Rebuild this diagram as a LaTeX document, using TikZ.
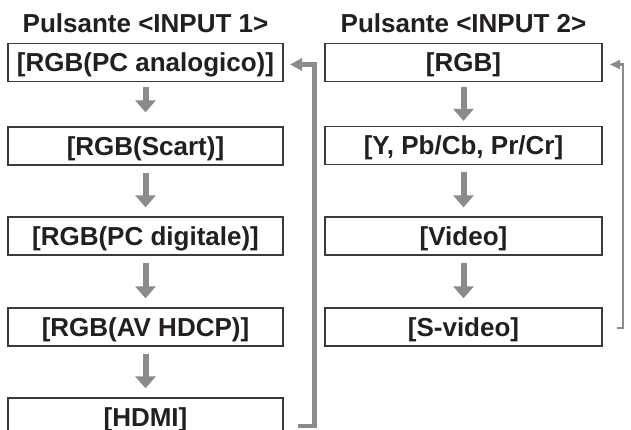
\documentclass[tikz,border=0pt]{standalone}
\usepackage{fontspec}
\setmainfont{Liberation Sans}
\usetikzlibrary{arrows.meta}
\definecolor{txt}{HTML}{231F20}
\definecolor{arr}{HTML}{8A8B8D}
\definecolor{frame}{HTML}{3A3A3A}
\begin{document}
\begin{tikzpicture}[x=1pt,y=-1pt,
  stepbox/.style={draw=frame,line width=1.3pt,minimum height=38pt,inner sep=0pt,
    text height=18.6pt,text depth=0pt,text=txt,font=\fontsize{26}{30}\selectfont\bfseries},
  lbox/.style={stepbox,minimum width=275pt},
  rbox/.style={stepbox,minimum width=277pt},
  ttl/.style={anchor=base,text=txt,inner sep=0pt,font=\fontsize{26}{30}\selectfont\bfseries},
  flow/.style={draw=arr,line width=6pt,-{Triangle[length=12pt,width=20pt]},shorten <=7pt,shorten >=9pt},
  loopthick/.style={draw=arr,line width=4.8pt,-{Triangle[length=12pt,width=12pt]}},
  loopthin/.style={draw=arr,line width=2.2pt,-{Triangle[length=10pt,width=9pt]}}
]
\useasboundingbox (0,0) rectangle (631,430);
\fill[white] (0,0) rectangle (631,430);

\node[ttl] (t1) at (145.5,33) {Pulsante <INPUT 1>};
\node[ttl] (t2) at (463.5,33) {Pulsante <INPUT 2>};

\node[lbox] (a1) at (145.5,62.5) {[RGB(PC analogico)]};
\node[lbox] (a2) at (145.5,146) {[RGB(Scart)]};
\node[lbox] (a3) at (145.5,236) {[RGB(PC digitale)]};
\node[lbox] (a4) at (145.5,327) {[RGB(AV HDCP)]};
\node[lbox] (a5) at (145.5,417) {[HDMI]};

\node[rbox] (b1) at (463.5,62.5) {[RGB]};
\node[rbox] (b2) at (463.5,145.5) {[Y, Pb/Cb, Pr/Cr]};
\node[rbox] (b3) at (463.5,236) {[Video]};
\node[rbox] (b4) at (463.5,327) {[S-video]};

\draw[flow,shorten >=14pt,shorten <=5pt] (a1) -- (a2);
\draw[flow] (a2) -- (a3);
\draw[flow] (a3) -- (a4);
\draw[flow] (a4) -- (a5);
\draw[flow,shorten <=5pt,shorten >=5pt] (b1) -- (b2);
\draw[flow] (b2) -- (b3);
\draw[flow] (b3) -- (b4);

\coordinate (l1s) at (298,426);
\coordinate (l1v) at (314.5,426);
\coordinate (l1e) at (290,64.5);
\draw[loopthick] (l1s) -- (l1v) |- (l1e);

\coordinate (l2s) at (617,328);
\coordinate (l2v) at (623,328);
\coordinate (l2e) at (610,64.5);
\draw[loopthin] (l2s) -- (l2v) |- (l2e);
\end{tikzpicture}
\end{document}
